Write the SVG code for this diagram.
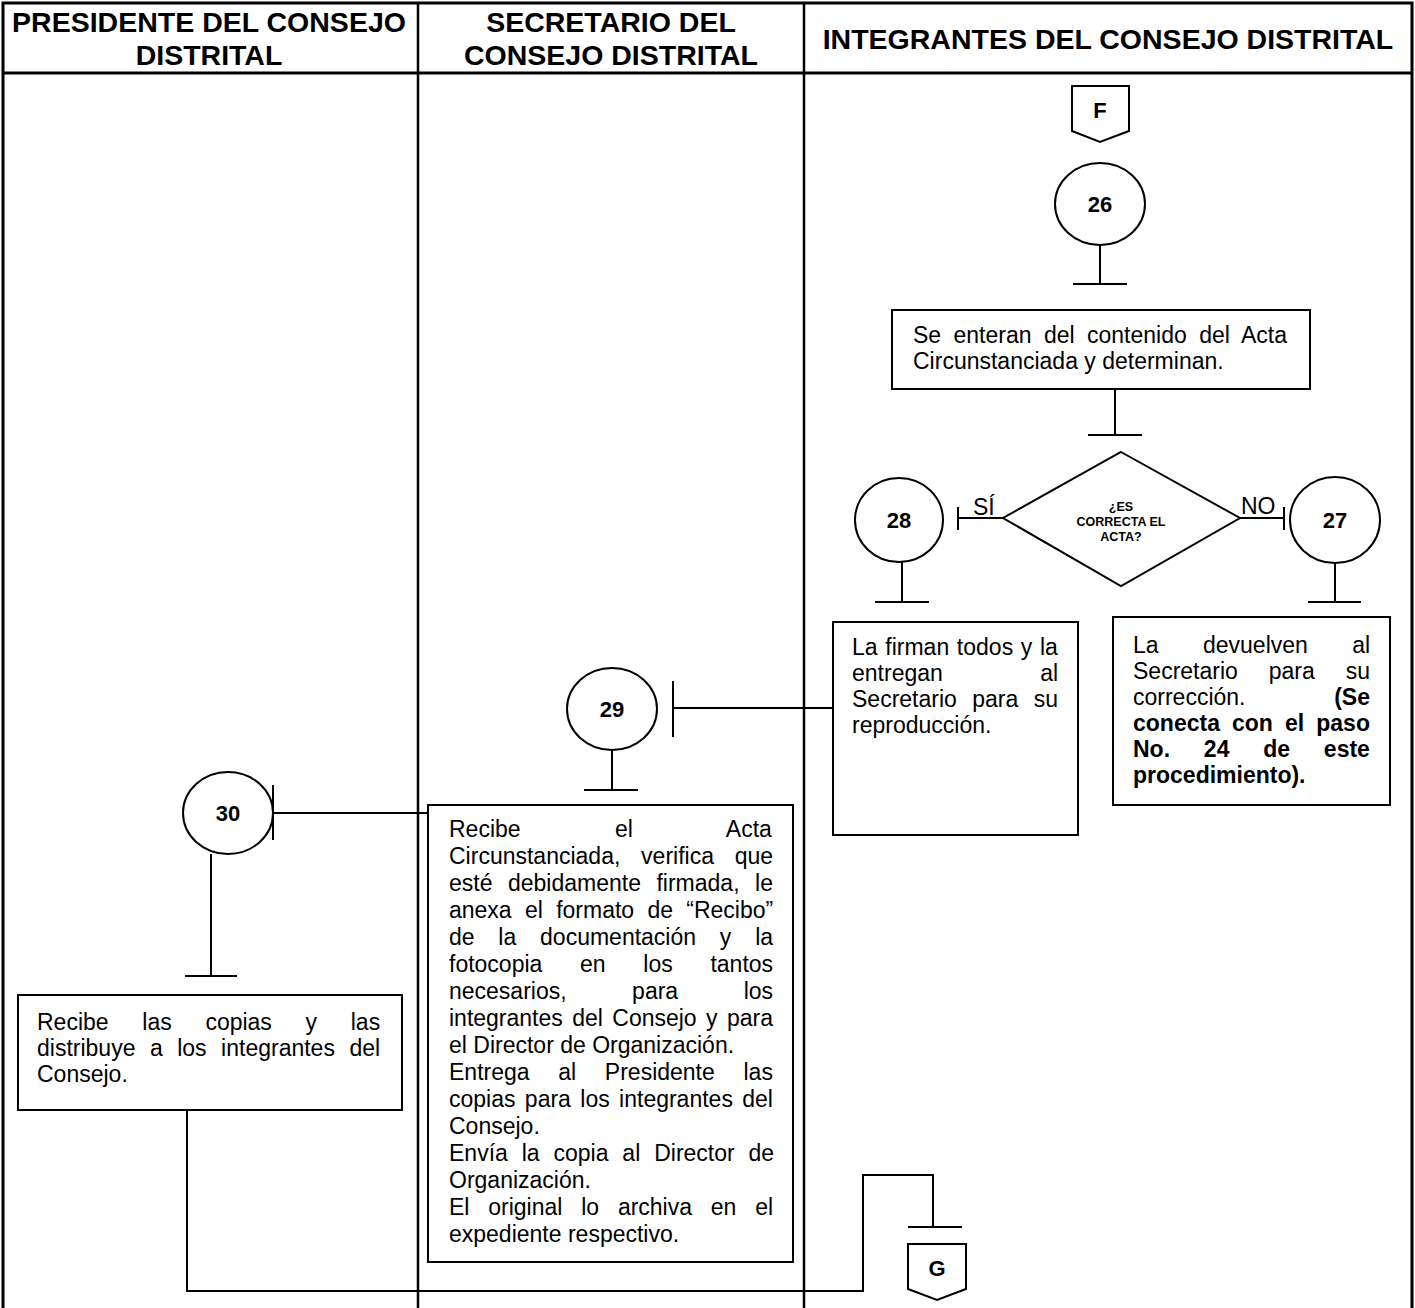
<svg xmlns="http://www.w3.org/2000/svg" width="1415" height="1308" viewBox="0 0 1415 1308">
  <style>
    .frame { fill: none; stroke: #000; stroke-width: 3; }
    .lane { fill: none; stroke: #000; stroke-width: 2.5; }
    .shape { fill: #fff; stroke: #000; stroke-width: 2; }
    .wire { fill: none; stroke: #000; stroke-width: 2; }
    .head { font-family: "Liberation Sans", Arial, sans-serif; font-size: 28.5px; font-weight: bold; text-anchor: middle; }
    .body { font-family: "Liberation Sans", Arial, sans-serif; font-size: 23px; }
    .b { font-weight: bold; }
    .num { font-family: "Liberation Sans", Arial, sans-serif; font-size: 22px; font-weight: bold; text-anchor: middle; }
    .q { font-family: "Liberation Sans", Arial, sans-serif; font-size: 12.5px; font-weight: bold; text-anchor: middle; }
    .lbl { font-family: "Liberation Sans", Arial, sans-serif; font-size: 23px; }
  </style>
  <rect width="1415" height="1308" fill="#fff"/>

  <!-- swimlane frame -->
  <g id="lanes">
    <path class="frame" d="M3,1308 V3 H1412 V1308"/>
    <line class="frame" x1="3" y1="73" x2="1412" y2="73"/>
    <line class="lane" x1="418" y1="3" x2="418" y2="1308"/>
    <line class="lane" x1="804" y1="3" x2="804" y2="1308"/>
    <text class="head" x="209" y="32">PRESIDENTE DEL CONSEJO</text>
    <text class="head" x="209" y="65">DISTRITAL</text>
    <text class="head" x="611" y="32">SECRETARIO DEL</text>
    <text class="head" x="611" y="65">CONSEJO DISTRITAL</text>
    <text class="head" x="1108" y="49">INTEGRANTES DEL CONSEJO DISTRITAL</text>
  </g>

  <!-- connectors -->
  <g id="connectors">
    <!-- 26 to box -->
    <line class="wire" x1="1100" y1="245" x2="1100" y2="284"/>
    <line class="wire" x1="1073" y1="284" x2="1127" y2="284"/>
    <!-- box to decision -->
    <line class="wire" x1="1115" y1="389" x2="1115" y2="435"/>
    <line class="wire" x1="1088" y1="435" x2="1142" y2="435"/>
    <!-- SÍ branch -->
    <line class="wire" x1="958" y1="518" x2="1003" y2="518"/>
    <line class="wire" x1="958" y1="507" x2="958" y2="530"/>
    <!-- NO branch -->
    <line class="wire" x1="1240" y1="518" x2="1284" y2="518"/>
    <line class="wire" x1="1284" y1="507" x2="1284" y2="530"/>
    <!-- 28 stem -->
    <line class="wire" x1="902" y1="562" x2="902" y2="602"/>
    <line class="wire" x1="875" y1="602" x2="929" y2="602"/>
    <!-- 27 stem -->
    <line class="wire" x1="1335" y1="563" x2="1335" y2="602"/>
    <line class="wire" x1="1308" y1="602" x2="1361" y2="602"/>
    <!-- box 28 to 29 -->
    <line class="wire" x1="673" y1="708" x2="833" y2="708"/>
    <line class="wire" x1="673" y1="681" x2="673" y2="737"/>
    <!-- 29 stem -->
    <line class="wire" x1="612" y1="750" x2="612" y2="790"/>
    <line class="wire" x1="584" y1="790" x2="638" y2="790"/>
    <!-- box 29 to 30 -->
    <line class="wire" x1="273" y1="813" x2="428" y2="813"/>
    <line class="wire" x1="273" y1="785" x2="273" y2="840"/>
    <!-- 30 stem -->
    <line class="wire" x1="211" y1="854" x2="211" y2="976"/>
    <line class="wire" x1="185" y1="976" x2="237" y2="976"/>
    <!-- box 30 to G -->
    <path class="wire" d="M187,1110 V1291 H863 V1175 H933 V1227"/>
    <line class="wire" x1="908" y1="1227" x2="962" y2="1227"/>
  </g>

  <!-- off-page connector F -->
  <g id="conn-F">
    <path class="shape" d="M1072,86 H1129 V131 L1100,142 L1072,131 Z"/>
    <text class="num" x="1100" y="118" font-size="20">F</text>
  </g>

  <g id="step-26">
    <ellipse class="shape" cx="1100" cy="204" rx="45" ry="41"/>
    <text class="num" x="1100" y="212">26</text>
  </g>

  <g id="box-26">
    <rect class="shape" x="892" y="310" width="418" height="79"/>
    <text class="body" x="913" y="343" word-spacing="6">Se enteran del contenido del Acta</text>
    <text class="body" x="913" y="369">Circunstanciada y determinan.</text>
  </g>

  <g id="decision">
    <path class="shape" d="M1121,452 L1240,518 L1121,586 L1003,518 Z"/>
    <text class="q" x="1121" y="511">¿ES</text>
    <text class="q" x="1121" y="526">CORRECTA EL</text>
    <text class="q" x="1121" y="541">ACTA?</text>
    <text class="lbl" x="973" y="515">SÍ</text>
    <text class="lbl" x="1241" y="514">NO</text>
  </g>

  <g id="step-28">
    <ellipse class="shape" cx="899" cy="520" rx="44" ry="42"/>
    <text class="num" x="899" y="528">28</text>
  </g>

  <g id="step-27">
    <ellipse class="shape" cx="1335" cy="520" rx="45" ry="43"/>
    <text class="num" x="1335" y="528">27</text>
  </g>

  <g id="box-28">
    <rect class="shape" x="833" y="622" width="245" height="213"/>
    <text class="body" x="852" y="655" word-spacing="1.3">La firman todos y la</text>
    <text class="body" x="852" y="681" word-spacing="91">entregan al</text>
    <text class="body" x="852" y="707" word-spacing="9">Secretario para su</text>
    <text class="body" x="852" y="733">reproducción.</text>
  </g>

  <g id="box-27">
    <rect class="shape" x="1113" y="617" width="277" height="188"/>
    <text class="body" x="1133" y="653" word-spacing="38">La devuelven al</text>
    <text class="body" x="1133" y="679" word-spacing="24.5">Secretario para su</text>
    <text class="body" x="1133" y="705">corrección.</text>
    <text class="body b" x="1370" y="705" text-anchor="end">(Se</text>
    <text class="body b" x="1133" y="731" word-spacing="5.7">conecta con el paso</text>
    <text class="body b" x="1133" y="757" word-spacing="27.4">No. 24 de este</text>
    <text class="body b" x="1133" y="783">procedimiento).</text>
  </g>

  <g id="step-29">
    <ellipse class="shape" cx="612" cy="709" rx="45" ry="41"/>
    <text class="num" x="612" y="717">29</text>
  </g>

  <g id="box-29">
    <rect class="shape" x="428" y="805" width="365" height="457"/>
    <text class="body" x="449" y="837" word-spacing="87.9">Recibe el Acta</text>
    <text class="body" x="449" y="864" word-spacing="14.4">Circunstanciada, verifica que</text>
    <text class="body" x="449" y="891" word-spacing="9.1">esté debidamente firmada, le</text>
    <text class="body" x="449" y="918" word-spacing="6.9">anexa el formato de “Recibo”</text>
    <text class="body" x="449" y="945" word-spacing="17.4">de la documentación y la</text>
    <text class="body" x="449" y="972" word-spacing="31.3">fotocopia en los tantos</text>
    <text class="body" x="449" y="999" word-spacing="59.1">necesarios, para los</text>
    <text class="body" x="449" y="1026" word-spacing="3">integrantes del Consejo y para</text>
    <text class="body" x="449" y="1053">el Director de Organización.</text>
    <text class="body" x="449" y="1080" word-spacing="22.3">Entrega al Presidente las</text>
    <text class="body" x="449" y="1107" word-spacing="3">copias para los integrantes del</text>
    <text class="body" x="449" y="1134">Consejo.</text>
    <text class="body" x="449" y="1161" word-spacing="7.5">Envía la copia al Director de</text>
    <text class="body" x="449" y="1188">Organización.</text>
    <text class="body" x="449" y="1215" word-spacing="12.4">El original lo archiva en el</text>
    <text class="body" x="449" y="1242">expediente respectivo.</text>
  </g>

  <g id="step-30">
    <ellipse class="shape" cx="228" cy="813" rx="45" ry="41"/>
    <text class="num" x="228" y="821">30</text>
  </g>

  <g id="box-30">
    <rect class="shape" x="18" y="995" width="384" height="115"/>
    <text class="body" x="37" y="1030" word-spacing="27.3">Recibe las copias y las</text>
    <text class="body" x="37" y="1056" word-spacing="8.1">distribuye a los integrantes del</text>
    <text class="body" x="37" y="1082">Consejo.</text>
  </g>

  <!-- off-page connector G -->
  <g id="conn-G">
    <path class="shape" d="M908,1244 H966 V1289 L937,1300 L908,1289 Z"/>
    <text class="num" x="937" y="1276" font-size="20">G</text>
  </g>
</svg>
